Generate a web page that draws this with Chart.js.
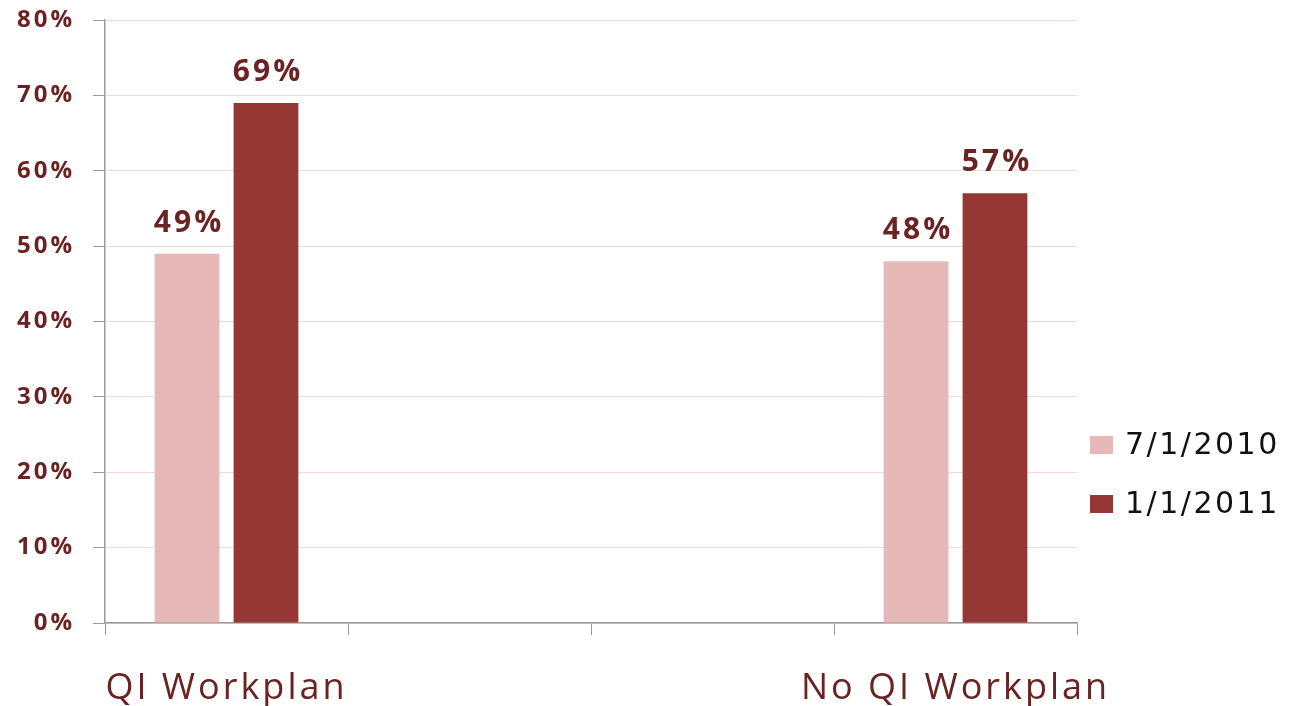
<!DOCTYPE html>
<html>
<head>
<meta charset="utf-8">
<script src="https://cdn.jsdelivr.net/npm/chart.js@4/dist/chart.umd.min.js"></script>
<style>
html,body{margin:0;padding:0;background:#fff;}
#wrap{width:1290px;height:706px;position:relative;}
</style>
</head>
<body>
<div id="wrap"><canvas id="c" width="1290" height="706"></canvas></div>
<script>
const categories = ['QI Workplan', '', '', 'No QI Workplan'];
const seriesNames = ['7/1/2010', '1/1/2011'];
const series2010 = [49, null, null, 48];
const series2011 = [69, null, null, 57];
const yTicks = [0, 10, 20, 30, 40, 50, 60, 70, 80];
const colors = ['#e6b8b7', '#953735'];

const labelColor = '#6b2222';

const spacingPlugin = {
  id: 'spacing',
  beforeDraw(chart) {
    if ('letterSpacing' in chart.ctx) chart.ctx.letterSpacing = '3px';
  }
};

const dataLabelPlugin = {
  id: 'dataLabels',
  afterDatasetsDraw(chart) {
    const ctx = chart.ctx;
    ctx.save();
    if ('letterSpacing' in ctx) ctx.letterSpacing = '3px';
    ctx.font = 'bold 30px "Open Sans", sans-serif';
    ctx.fillStyle = labelColor;
    ctx.textAlign = 'center';
    ctx.textBaseline = 'alphabetic';
    chart.data.datasets.forEach((ds, i) => {
      const meta = chart.getDatasetMeta(i);
      meta.data.forEach((bar, j) => {
        const v = ds.data[j];
        if (v == null) return;
        ctx.fillText(v + '%', bar.x + 2, bar.y - 22);
      });
    });
    ctx.restore();
  }
};

const legendPlugin = {
  id: 'customLegend',
  afterDraw(chart) {
    const ctx = chart.ctx;
    ctx.save();
    if ('letterSpacing' in ctx) ctx.letterSpacing = '2.5px';
    ctx.font = '30px "DejaVu Sans", sans-serif';
    ctx.textBaseline = 'middle';
    ctx.textAlign = 'left';
    const x0 = 1090, ys = [445, 504];
    chart.data.datasets.forEach((ds, i) => {
      ctx.fillStyle = ds.backgroundColor;
      ctx.fillRect(x0, ys[i] - 9, 23, 18);
      ctx.fillStyle = '#111';
      ctx.fillText(ds.label, x0 + 35, ys[i] + 1);
    });
    ctx.restore();
  }
};

new Chart(document.getElementById('c'), {
  type: 'bar',
  data: {
    labels: categories,
    datasets: [
      { label: seriesNames[0], data: series2010, backgroundColor: colors[0] },
      { label: seriesNames[1], data: series2011, backgroundColor: colors[1] }
    ]
  },
  options: {
    responsive: false,
    animation: false,
    devicePixelRatio: 1,
    layout: { padding: { left: 0, top: 20, right: 213, bottom: 0 } },
    categoryPercentage: 0.65,
    barPercentage: 0.82,
    plugins: { legend: { display: false }, tooltip: { enabled: false } },
    scales: {
      x: {
        grid: { display: true, drawOnChartArea: false, drawTicks: true, tickLength: 12, color: '#9a9a9a', offset: true },
        border: { color: '#9a9a9a', width: 1.5 },
        ticks: { color: labelColor, font: { family: '"Open Sans", sans-serif', size: 36 }, padding: 32, maxRotation: 0, autoSkip: false },
        afterFit(scale) { scale.height = 83; scale.paddingLeft = 0; scale.paddingRight = 0; }
      },
      y: {
        min: 0, max: 80,
        afterBuildTicks(scale) { scale.ticks = yTicks.map(v => ({ value: v })); },
        grid: { color: '#f6d9d9', tickColor: '#9a9a9a', tickLength: 12, lineWidth: 1 },
        border: { color: '#9a9a9a', width: 1.5 },
        ticks: { color: labelColor, font: { family: '"Open Sans", sans-serif', size: 24, weight: 'bold' }, padding: 18, callback: v => v + '%' },
        afterFit(scale) { scale.width = 105; scale.paddingTop = 0; scale.paddingBottom = 0; }
      }
    }
  },
  plugins: [spacingPlugin, dataLabelPlugin, legendPlugin]
});
</script>
</body>
</html>
